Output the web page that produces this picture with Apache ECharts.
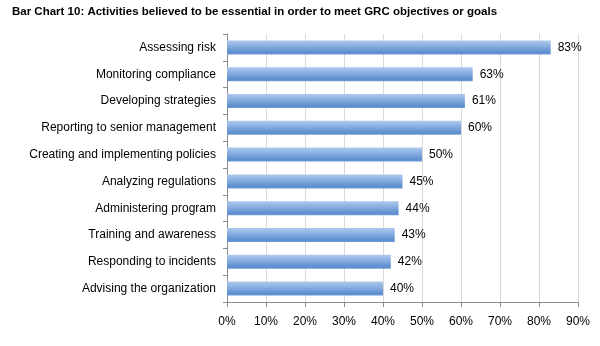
<!DOCTYPE html>
<html><head><meta charset="utf-8">
<script src="https://cdn.jsdelivr.net/npm/echarts@6/dist/echarts.min.js"></script>
<style>html,body{margin:0;padding:0;background:#fff}#c{width:600px;height:346px}</style>
</head><body><div id="c"></div>
<script>
const titleText = 'Bar Chart 10: Activities believed to be essential in order to meet GRC objectives or goals';
const categories = ['Assessing risk','Monitoring compliance','Developing strategies','Reporting to senior management','Creating and implementing policies','Analyzing regulations','Administering program','Training and awareness','Responding to incidents','Advising the organization'];
const values = [83,63,61,60,50,45,44,43,42,40];
const xTicks = [0,10,20,30,40,50,60,70,80,90];

const chart = echarts.init(document.getElementById('c'), null, {renderer:'canvas'});
chart.setOption({
  animation:false,
  backgroundColor:'#fff',
  title:{text:titleText,left:7,top:1,textStyle:{fontFamily:'Liberation Sans',fontSize:11.5,fontWeight:'bold',color:'#000'}},
  grid:{left:227,right:22,top:34,bottom:44,containLabel:false},
  xAxis:{type:'value',min:xTicks[0],max:xTicks[xTicks.length-1],interval:10,
    axisLine:{show:true,lineStyle:{color:'#8c8c8c'}},
    axisTick:{show:true,length:5,lineStyle:{color:'#8c8c8c'}},
    axisLabel:{formatter:v=>v+'%',color:'#000',fontFamily:'Liberation Sans',fontSize:12,margin:14},
    splitLine:{show:true,lineStyle:{color:'#d9d9d9'}}},
  yAxis:{type:'category',data:categories,inverse:true,
    axisLine:{show:true,lineStyle:{color:'#8c8c8c'}},
    axisTick:{show:true,length:4,lineStyle:{color:'#8c8c8c'}},
    axisLabel:{color:'#000',fontFamily:'Liberation Sans',fontSize:12,margin:11}},
  series:[{type:'bar',data:values,barWidth:14,
    itemStyle:{color:new echarts.graphic.LinearGradient(0,0,0,1,[
      {offset:0,color:'#aecaee'},{offset:0.45,color:'#85abdf'},{offset:0.85,color:'#5d8ecf'},{offset:1,color:'#6e98d3'}])},
    label:{show:true,position:'right',distance:7,formatter:'{c}%',color:'#000',fontFamily:'Liberation Sans',fontSize:12}}]
});
</script></body></html>
